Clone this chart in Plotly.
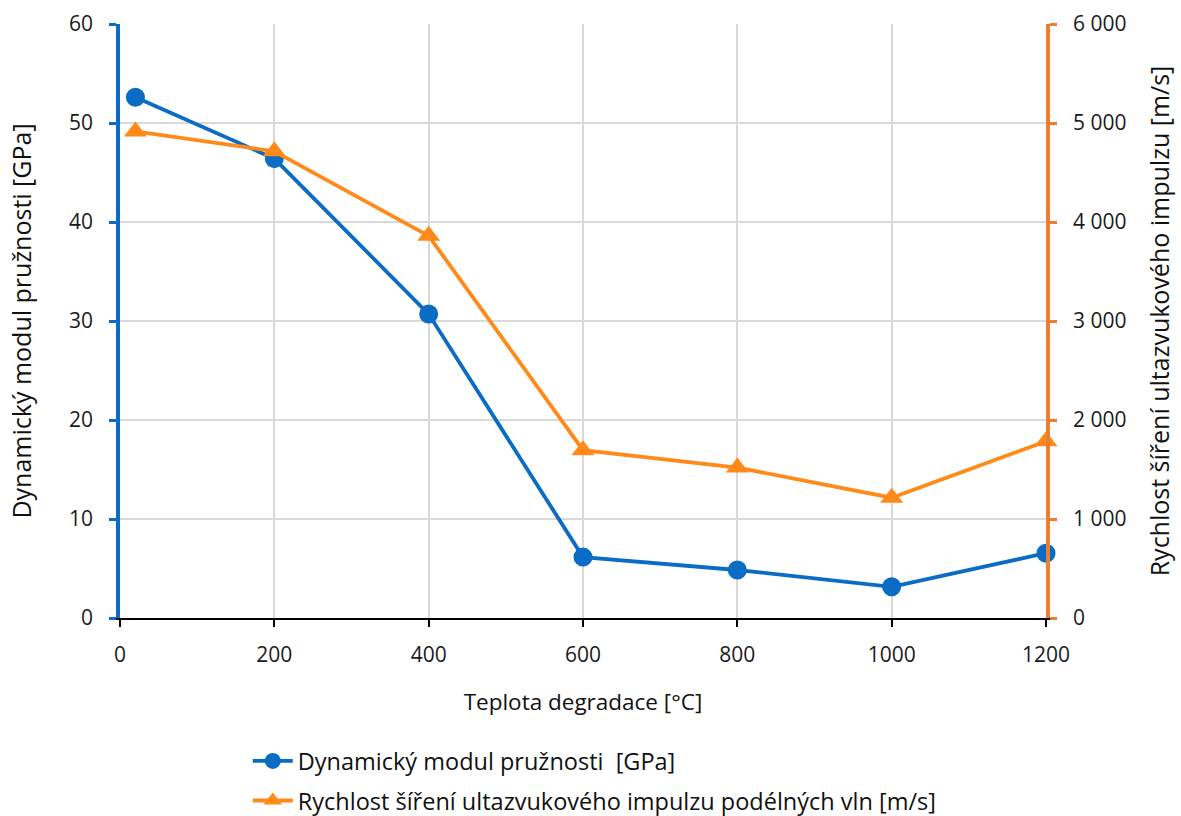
import plotly.graph_objects as go

# Degradation temperature [°C]
teplota = [20, 200, 400, 600, 800, 1000, 1200]
# Dynamic modulus of elasticity [GPa]
modul = [52.6, 46.4, 30.7, 6.15, 4.85, 3.15, 6.55]
# Ultrasonic pulse velocity [m/s]
rychlost = [4915, 4715, 3860, 1695, 1520, 1215, 1785]

name_modul = "Dynamický modul pružnosti  [GPa]"
name_rychlost = "Rychlost šíření ultazvukového impulzu podélných vln [m/s]"

BLUE = "#0A6CC4"
ORANGE = "#FF8A1A"
AXIS_ORANGE = "#ED7D31"
FONT = "Open Sans"

fig = go.Figure()
fig.add_trace(go.Scatter(
    x=teplota, y=modul, name=name_modul, mode="lines+markers",
    legendgroup="a",
    line=dict(color=BLUE, width=3.8),
    marker=dict(symbol="circle", size=19, color=BLUE),
    cliponaxis=False,
))
fig.add_trace(go.Scatter(
    x=teplota, y=rychlost, name=name_rychlost, mode="lines+markers", yaxis="y2",
    legendgroup="b",
    line=dict(color=ORANGE, width=3.8),
    marker=dict(symbol="triangle-up", size=20, color=ORANGE),
    cliponaxis=False,
))

tick_font = dict(family=FONT, size=21, color="#1a1a1a")
xtitle_font = dict(family=FONT, size=22.5, color="#111111")
ytitle_font = dict(family=FONT, size=25, color="#111111")

fig.update_layout(
    width=1181, height=816,
    margin=dict(l=120, r=135, t=24, b=198, autoexpand=False),
    paper_bgcolor="white", plot_bgcolor="white",
    separators=". ",
    showlegend=True,
    legend=dict(
        x=0.138, y=-0.204, xanchor="left", yanchor="top",
        font=dict(family=FONT, size=23.5, color="#111111"),
        bgcolor="rgba(0,0,0,0)", traceorder="grouped", tracegroupgap=6,
        itemwidth=40,
    ),
    xaxis=dict(
        range=[0, 1200], dtick=200, tick0=0, automargin=False,
        showgrid=True, gridcolor="#d9d9d9", gridwidth=1.5,
        showline=True, linecolor="black", linewidth=2,
        ticks="outside", ticklen=7, tickwidth=2, tickcolor="black",
        tickfont=tick_font, zeroline=False, ticklabelstandoff=10,
        title=dict(text="Teplota degradace [°C]", font=xtitle_font, standoff=27),
    ),
    yaxis=dict(
        range=[0, 60], dtick=10, automargin=False,
        showgrid=True, gridcolor="#d9d9d9", gridwidth=1.5,
        showline=True, linecolor=BLUE, linewidth=3.5,
        ticks="outside", ticklen=7, tickwidth=3, tickcolor=BLUE,
        tickfont=tick_font, zeroline=False, ticklabelstandoff=12,
        title=dict(text="Dynamický modul pružnosti [GPa]", font=ytitle_font, standoff=31),
    ),
    yaxis2=dict(
        range=[0, 6000], dtick=1000, tickformat=",d", automargin=False,
        overlaying="y", side="right",
        showgrid=False,
        showline=True, linecolor=AXIS_ORANGE, linewidth=3.5,
        ticks="outside", ticklen=7, tickwidth=3, tickcolor=AXIS_ORANGE,
        tickfont=tick_font, zeroline=False, ticklabelstandoff=12,
        title=dict(text="Rychlost šíření ultazvukového impulzu [m/s]", font=ytitle_font, standoff=27),
    ),
)

fig.write_html("out.html")
